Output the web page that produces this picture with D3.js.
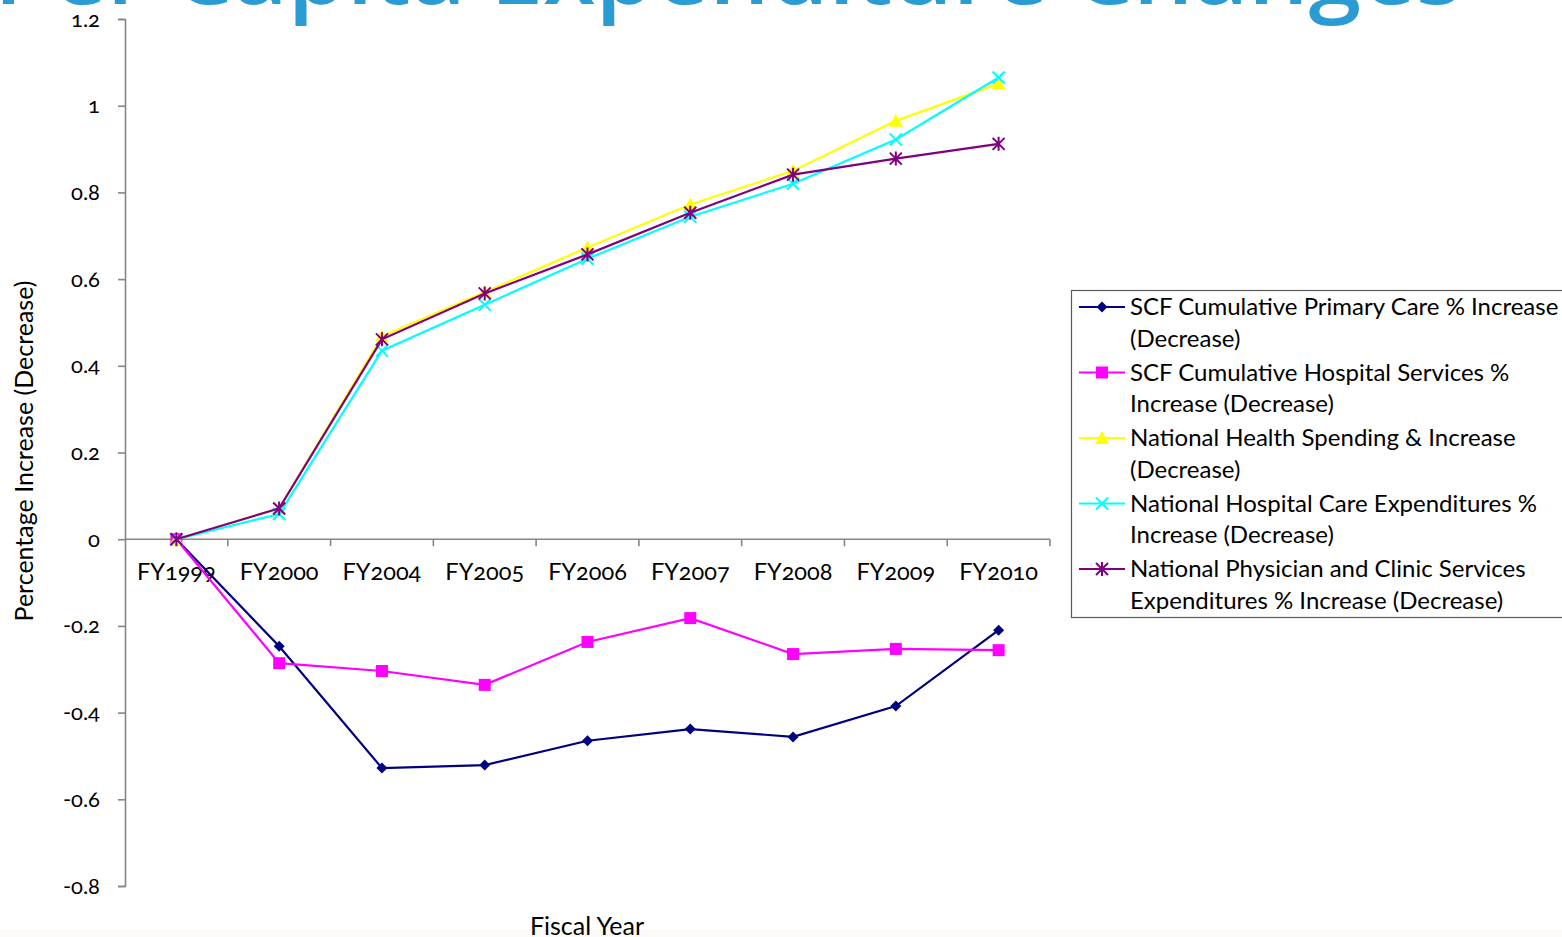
<!DOCTYPE html>
<html>
<head>
<meta charset="utf-8">
<script src="https://cdn.jsdelivr.net/npm/d3@7"></script>
<style>
  html, body { margin: 0; padding: 0; background: #fff; overflow: hidden; }
  svg { display: block; }
  text { font-family: Lato, "Open Sans", sans-serif; font-feature-settings: "onum"; fill: #000; }
</style>
</head>
<body>
<svg id="chart" width="1562" height="937"></svg>
<script>
// Fiscal years on the category axis
const categories = ["FY1999", "FY2000", "FY2004", "FY2005", "FY2006", "FY2007", "FY2008", "FY2009", "FY2010"];

// Cumulative per-capita change for each series
const scfPrimaryCare   = [0, -0.247, -0.528, -0.521, -0.465, -0.438, -0.456, -0.385, -0.210];
const scfHospital      = [0, -0.286, -0.304, -0.336, -0.237, -0.182, -0.265, -0.253, -0.256];
const nationalHealth   = [0, 0.071, 0.468, 0.570, 0.673, 0.772, 0.850, 0.965, 1.051];
const nationalHospital = [0, 0.058, 0.435, 0.541, 0.647, 0.744, 0.820, 0.922, 1.065];
const nationalPhysician= [0, 0.071, 0.461, 0.567, 0.657, 0.753, 0.841, 0.878, 0.912];

const seriesNames = [
  ["SCF Cumulative Primary Care % Increase", "(Decrease)"],
  ["SCF Cumulative Hospital Services %", "Increase (Decrease)"],
  ["National Health Spending & Increase", "(Decrease)"],
  ["National Hospital Care Expenditures %", "Increase (Decrease)"],
  ["National Physician and Clinic Services", "Expenditures % Increase (Decrease)"]
];
const yTicks = [-0.8, -0.6, -0.4, -0.2, 0, 0.2, 0.4, 0.6, 0.8, 1, 1.2];
const yTickLabels = ["-0.8", "-0.6", "-0.4", "-0.2", "0", "0.2", "0.4", "0.6", "0.8", "1", "1.2"];

const series = [
  { name: seriesNames[0], values: scfPrimaryCare,    color: "#000080", marker: "diamond" },
  { name: seriesNames[1], values: scfHospital,       color: "#FF00FF", marker: "square" },
  { name: seriesNames[2], values: nationalHealth,    color: "#FFFF00", marker: "triangle" },
  { name: seriesNames[3], values: nationalHospital,  color: "#00FFFF", marker: "cross" },
  { name: seriesNames[4], values: nationalPhysician, color: "#800080", marker: "star" }
];

const svg = d3.select("#chart");

// Faint strip along the bottom edge
svg.append("rect").attr("x", 0).attr("y", 930).attr("width", 1562).attr("height", 7)
  .attr("fill", "#fbfaf9");

// Headline across the top edge
svg.append("text")
  .attr("x", -6).attr("y", 4)
  .attr("textLength", 1468).attr("lengthAdjust", "spacingAndGlyphs")
  .style("font-family", "'Open Sans', sans-serif")
  .style("font-weight", 600)
  .style("font-size", "92px")
  .style("fill", "#2A9BD3")
  .text("Per Capita Expenditure Changes");

const plot = { left: 125, right: 1050, top: 19, bottom: 886 };

const x = d3.scaleBand().domain(categories).range([plot.left, plot.right]).padding(0);
const y = d3.scaleLinear().domain([-0.8, 1.2]).range([plot.bottom, plot.top]);
const cx = d => x(d) + x.bandwidth() / 2;

const axisColor = "#868686";

// Value axis
const yAxis = svg.append("g")
  .attr("transform", `translate(${plot.left},0)`)
  .call(d3.axisLeft(y).tickValues(yTicks).tickSize(7).tickPadding(18)
    .tickFormat((d, i) => yTickLabels[i]));
yAxis.select(".domain").attr("stroke", axisColor).attr("stroke-width", 1.6);
yAxis.selectAll(".tick line").attr("stroke", axisColor).attr("stroke-width", 1.6);
yAxis.selectAll(".tick text").style("font-size", "22px").attr("fill", "#000")
  .style("font-family", "Lato, sans-serif");

// Category axis through zero
const xAxis = svg.append("g")
  .attr("transform", `translate(0,${y(0)})`);
xAxis.append("path")
  .attr("d", `M${plot.left},0H${plot.right}`)
  .attr("stroke", axisColor).attr("stroke-width", 1.6).attr("fill", "none");
// boundary ticks between categories
const boundaries = categories.map(c => x(c) + x.bandwidth());
xAxis.selectAll("line.bt").data(boundaries).enter().append("line")
  .attr("class", "bt")
  .attr("x1", d => d).attr("x2", d => d)
  .attr("y1", 0).attr("y2", 7)
  .attr("stroke", axisColor).attr("stroke-width", 1.6);
xAxis.selectAll("text.cl").data(categories).enter().append("text")
  .attr("class", "cl")
  .attr("x", d => cx(d)).attr("y", 41)
  .attr("text-anchor", "middle")
  .style("font-size", "23.5px")
  .text(d => d);

// Axis titles
svg.append("text")
  .attr("transform", `translate(33,${451}) rotate(-90)`)
  .attr("text-anchor", "middle")
  .style("font-size", "25px")
  .text("Percentage Increase (Decrease)");
svg.append("text")
  .attr("x", 587).attr("y", 935)
  .attr("text-anchor", "middle")
  .style("font-size", "25px")
  .text("Fiscal Year");

// Marker shapes
function drawMarker(g, type, color) {
  if (type === "diamond") {
    g.append("path").attr("d", "M0,-5.5L5.5,0L0,5.5L-5.5,0Z").attr("fill", color);
  } else if (type === "square") {
    g.append("rect").attr("x", -6).attr("y", -6).attr("width", 12).attr("height", 12).attr("fill", color);
  } else if (type === "triangle") {
    g.append("path").attr("d", "M0,-7L7,6L-7,6Z").attr("fill", color);
  } else if (type === "cross") {
    g.append("path").attr("d", "M-6,-6L6,6M-6,6L6,-6").attr("stroke", color).attr("stroke-width", 2).attr("fill", "none");
  } else if (type === "star") {
    g.append("path").attr("d", "M-6,-6L6,6M-6,6L6,-6M0,-7L0,7").attr("stroke", color).attr("stroke-width", 2).attr("fill", "none");
  }
}

const line = d3.line().x((d, i) => cx(categories[i])).y(d => y(d));

series.forEach(s => {
  const g = svg.append("g");
  g.append("path").datum(s.values)
    .attr("d", line)
    .attr("fill", "none")
    .attr("stroke", s.color)
    .attr("stroke-width", 2.2);
  s.values.forEach((v, i) => {
    const m = g.append("g").attr("transform", `translate(${cx(categories[i])},${y(v)})`);
    drawMarker(m, s.marker, s.color);
  });
});

// Legend
const legend = svg.append("g");
legend.append("rect")
  .attr("x", 1071.5).attr("y", 290.5).attr("width", 500).attr("height", 327)
  .attr("fill", "#fff").attr("stroke", "#5a5a5a").attr("stroke-width", 1.2);
series.forEach((s, i) => {
  const top = 307 + i * 65.5;
  const g = legend.append("g");
  g.append("line").attr("x1", 1079).attr("x2", 1125).attr("y1", top).attr("y2", top)
    .attr("stroke", s.color).attr("stroke-width", 2.2);
  const m = g.append("g").attr("transform", `translate(1102,${top})`);
  drawMarker(m, s.marker, s.color);
  s.name.forEach((ln, j) => {
    g.append("text")
      .attr("x", 1130).attr("y", top + 8 + j * 31.5)
      .style("font-size", "24px")
      .text(ln);
  });
});
</script>
</body>
</html>
